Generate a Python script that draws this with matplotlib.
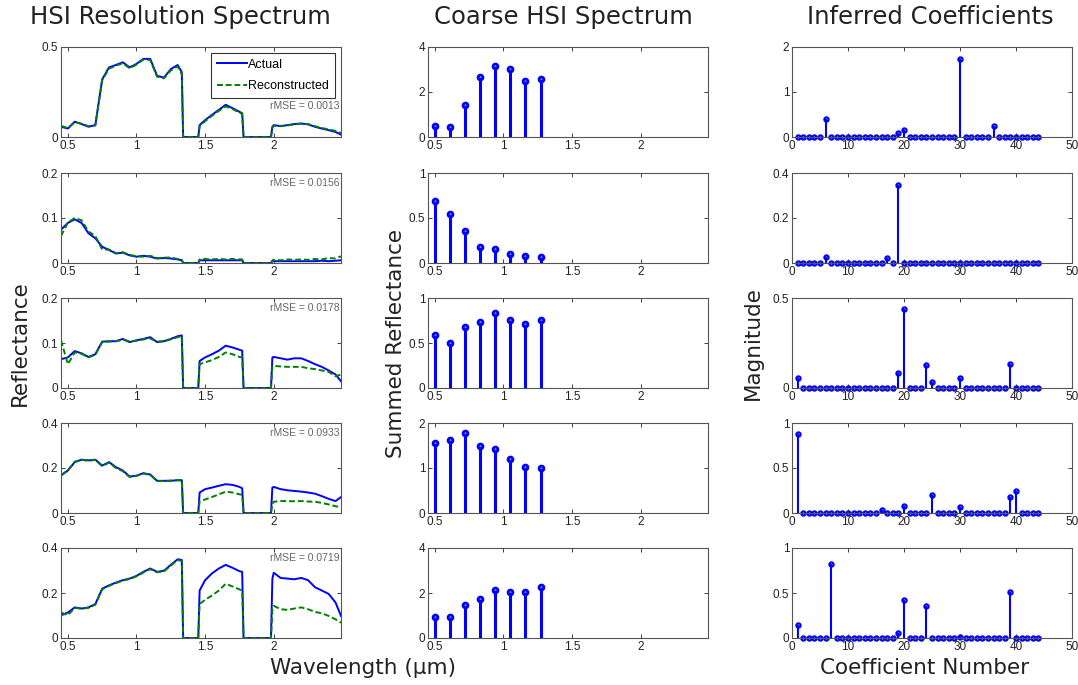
import numpy as np
import matplotlib
matplotlib.use("Agg")
import matplotlib.pyplot as plt
from matplotlib.ticker import FuncFormatter

# shared wavelength grid (um) for the full-resolution spectra
wl = [0.45, 0.50, 0.55, 0.60, 0.65, 0.70, 0.75, 0.80, 0.85, 0.90, 0.95,
      1.00, 1.05, 1.10, 1.15, 1.20, 1.25, 1.30, 1.33, 1.34, 1.45, 1.46,
      1.50, 1.55, 1.60, 1.65, 1.70, 1.75, 1.77, 1.78, 1.98, 1.99, 2.00,
      2.05, 2.10, 2.15, 2.20, 2.25, 2.30, 2.35, 2.40, 2.45, 2.49]

actual_1 = [0.057, 0.047, 0.085, 0.072, 0.057, 0.066, 0.320, 0.387, 0.400, 0.415, 0.387,
            0.406, 0.434, 0.434, 0.340, 0.330, 0.377, 0.400, 0.360, 0.0, 0.0, 0.066,
            0.094, 0.123, 0.151, 0.179, 0.160, 0.140, 0.132, 0.0, 0.0, 0.057, 0.066,
            0.060, 0.066, 0.072, 0.075, 0.070, 0.057, 0.047, 0.038, 0.028, 0.013]
recon_1 = [0.062, 0.050, 0.082, 0.074, 0.060, 0.064, 0.315, 0.380, 0.396, 0.410, 0.382,
           0.402, 0.430, 0.428, 0.335, 0.326, 0.370, 0.392, 0.350, 0.0, 0.0, 0.060,
           0.088, 0.118, 0.145, 0.170, 0.155, 0.136, 0.128, 0.0, 0.0, 0.052, 0.062,
           0.062, 0.064, 0.070, 0.074, 0.072, 0.060, 0.050, 0.042, 0.034, 0.022]

actual_2 = [0.074, 0.089, 0.097, 0.089, 0.066, 0.055, 0.036, 0.029, 0.021, 0.023, 0.017,
            0.014, 0.016, 0.014, 0.010, 0.011, 0.010, 0.008, 0.006, 0.0, 0.0, 0.006,
            0.006, 0.006, 0.006, 0.006, 0.006, 0.006, 0.006, 0.0, 0.0, 0.004, 0.004,
            0.004, 0.004, 0.004, 0.004, 0.004, 0.004, 0.005, 0.004, 0.005, 0.006]
recon_2 = [0.060, 0.090, 0.100, 0.095, 0.070, 0.060, 0.030, 0.030, 0.022, 0.024, 0.018,
           0.015, 0.014, 0.016, 0.011, 0.012, 0.012, 0.009, 0.007, 0.0, 0.0, 0.008,
           0.009, 0.008, 0.009, 0.008, 0.009, 0.008, 0.008, 0.0, 0.0, 0.006, 0.007,
           0.006, 0.008, 0.007, 0.008, 0.007, 0.009, 0.008, 0.011, 0.010, 0.015]

actual_3 = [0.064, 0.068, 0.082, 0.077, 0.069, 0.075, 0.103, 0.104, 0.104, 0.109, 0.102,
            0.106, 0.109, 0.113, 0.102, 0.104, 0.109, 0.115, 0.117, 0.0, 0.0, 0.060,
            0.068, 0.075, 0.083, 0.094, 0.090, 0.085, 0.083, 0.0, 0.0, 0.068, 0.069,
            0.066, 0.063, 0.066, 0.066, 0.060, 0.053, 0.047, 0.039, 0.030, 0.015]
recon_3 = [0.106, 0.053, 0.079, 0.076, 0.068, 0.074, 0.102, 0.103, 0.104, 0.107, 0.104,
           0.105, 0.108, 0.110, 0.103, 0.104, 0.108, 0.113, 0.115, 0.0, 0.0, 0.053,
           0.057, 0.062, 0.069, 0.079, 0.075, 0.069, 0.068, 0.0, 0.0, 0.049, 0.049,
           0.048, 0.047, 0.047, 0.047, 0.044, 0.042, 0.039, 0.036, 0.026, 0.030]

actual_4 = [0.166, 0.189, 0.226, 0.237, 0.234, 0.237, 0.211, 0.226, 0.204, 0.189, 0.162,
            0.166, 0.177, 0.171, 0.143, 0.143, 0.143, 0.146, 0.146, 0.0, 0.0, 0.091,
            0.106, 0.113, 0.121, 0.128, 0.125, 0.116, 0.110, 0.0, 0.0, 0.113, 0.116,
            0.106, 0.101, 0.098, 0.095, 0.091, 0.086, 0.075, 0.063, 0.053, 0.071]
recon_4 = [0.168, 0.190, 0.228, 0.236, 0.232, 0.236, 0.208, 0.224, 0.200, 0.186, 0.160,
           0.165, 0.175, 0.170, 0.142, 0.142, 0.144, 0.145, 0.145, 0.0, 0.0, 0.053,
           0.060, 0.071, 0.083, 0.095, 0.091, 0.083, 0.081, 0.0, 0.0, 0.038, 0.050,
           0.053, 0.053, 0.052, 0.053, 0.051, 0.050, 0.045, 0.038, 0.030, 0.026]

actual_5 = [0.101, 0.113, 0.136, 0.131, 0.136, 0.151, 0.219, 0.234, 0.246, 0.257, 0.264,
            0.276, 0.294, 0.309, 0.294, 0.299, 0.325, 0.350, 0.347, 0.0, 0.0, 0.211,
            0.257, 0.287, 0.309, 0.325, 0.312, 0.297, 0.294, 0.0, 0.0, 0.264, 0.290,
            0.267, 0.264, 0.261, 0.267, 0.257, 0.226, 0.211, 0.196, 0.158, 0.098]
recon_5 = [0.113, 0.101, 0.134, 0.130, 0.134, 0.148, 0.216, 0.232, 0.244, 0.255, 0.262,
           0.274, 0.291, 0.306, 0.292, 0.296, 0.322, 0.346, 0.343, 0.0, 0.0, 0.151,
           0.170, 0.189, 0.211, 0.241, 0.229, 0.216, 0.211, 0.0, 0.0, 0.128, 0.143,
           0.128, 0.125, 0.131, 0.136, 0.128, 0.116, 0.110, 0.098, 0.083, 0.068]

actual = [actual_1, actual_2, actual_3, actual_4, actual_5]
recon = [recon_1, recon_2, recon_3, recon_4, recon_5]
rmse_labels = ["0.0013", "0.0156", "0.0178", "0.0933", "0.0719"]
spec_ylims = [0.5, 0.2, 0.2, 0.4, 0.4]
spec_yticks = [[0, 0.5], [0, 0.1, 0.2], [0, 0.1, 0.2], [0, 0.2, 0.4], [0, 0.2, 0.4]]

# coarse band centres and summed reflectance
band_wl = [0.50, 0.61, 0.72, 0.83, 0.94, 1.05, 1.16, 1.27]
coarse = [
    [0.51, 0.45, 1.41, 2.65, 3.15, 3.00, 2.47, 2.58],
    [0.685, 0.543, 0.356, 0.176, 0.154, 0.105, 0.079, 0.071],
    [0.586, 0.500, 0.683, 0.728, 0.828, 0.754, 0.716, 0.757],
    [1.56, 1.63, 1.78, 1.49, 1.42, 1.19, 1.03, 1.00],
    [0.93, 0.93, 1.45, 1.72, 2.14, 2.05, 2.05, 2.25],
]
coarse_ylims = [4, 1, 1, 2, 4]
coarse_yticks = [[0, 2, 4], [0, 0.5, 1], [0, 0.5, 1], [0, 1, 2], [0, 2, 4]]

# inferred coefficients: 44 coefficients, only the non-zero ones listed
n_coef = 44
coef_idx = [
    [6, 19, 20, 30, 36],
    [6, 17, 19],
    [1, 19, 20, 24, 25, 30, 39],
    [1, 16, 20, 25, 30, 39, 40],
    [1, 7, 19, 20, 24, 30, 39],
]
coef_val = [
    [0.39, 0.08, 0.15, 1.74, 0.24],
    [0.025, 0.022, 0.347],
    [0.053, 0.085, 0.44, 0.126, 0.032, 0.053, 0.132],
    [0.88, 0.03, 0.075, 0.195, 0.064, 0.18, 0.243],
    [0.142, 0.824, 0.056, 0.423, 0.356, 0.01, 0.513],
]
coef_ylims = [2, 0.4, 0.5, 1, 1]
coef_yticks = [[0, 1, 2], [0, 0.2, 0.4], [0, 0.5], [0, 0.5, 1], [0, 0.5, 1]]

blue = "#0000ff"
green = "#008000"
tick_font = "Liberation Sans"
label_font = "DejaVu Sans"

fig = plt.figure(figsize=(10.78, 6.85), dpi=100)
W, H = 1078.0, 685.0
col_x = [61, 428, 792]
col_w = 280
row_top = [47, 173, 298, 423, 548]
row_h = 90

fmt = FuncFormatter(lambda v, p: "%g" % v)


def style(ax):
    ax.tick_params(direction="in", top=True, right=True, length=3, width=0.6,
                   labelsize=8.5, pad=2, colors="#222222")
    for lab in ax.get_xticklabels() + ax.get_yticklabels():
        lab.set_family(tick_font)
    for s in ax.spines.values():
        s.set_color("#555555")
        s.set_linewidth(0.8)
    ax.xaxis.set_major_formatter(fmt)
    ax.yaxis.set_major_formatter(fmt)


for r in range(5):
    y0 = 1 - (row_top[r] + row_h) / H
    hh = row_h / H

    # full resolution spectrum
    ax = fig.add_axes([col_x[0] / W, y0, col_w / W, hh])
    ax.plot(wl, actual[r], color=blue, lw=1.4, label="Actual")
    ax.plot(wl, recon[r], color=green, lw=1.4, ls="--", dashes=(3, 1.5), label="Reconstructed")
    ax.set_xlim(0.45, 2.49)
    ax.set_ylim(0, spec_ylims[r])
    ax.set_xticks([0.5, 1, 1.5, 2])
    ax.set_yticks(spec_yticks[r])
    style(ax)
    if r == 0:
        leg = ax.legend(loc="upper right", frameon=True, fancybox=False,
                        handlelength=2.4, borderpad=0.45, labelspacing=0.75,
                        handletextpad=0.1, borderaxespad=0.5,
                        prop={"family": tick_font, "size": 9})
        leg.get_frame().set_edgecolor("black")
        leg.get_frame().set_linewidth(0.8)
        ty = 0.34
    else:
        ty = 0.89
    ax.text(0.995, ty, "rMSE = " + rmse_labels[r], transform=ax.transAxes,
            ha="right", va="center", fontsize=7.5, color="#666666", family=tick_font)

    # coarse spectrum
    ax = fig.add_axes([col_x[1] / W, y0, col_w / W, hh])
    ml, sl, bl = ax.stem(band_wl, coarse[r], linefmt="-", markerfmt="o", basefmt=" ")
    plt.setp(sl, color=blue, lw=2.2)
    plt.setp(ml, color=blue, ms=3.5, mfc="none", mew=2)
    ax.set_xlim(0.45, 2.49)
    ax.set_ylim(0, coarse_ylims[r])
    ax.set_xticks([0.5, 1, 1.5, 2])
    ax.set_yticks(coarse_yticks[r])
    style(ax)

    # inferred coefficients
    ax = fig.add_axes([col_x[2] / W, y0, col_w / W, hh])
    vals = np.zeros(n_coef)
    vals[np.array(coef_idx[r]) - 1] = coef_val[r]
    ml, sl, bl = ax.stem(np.arange(1, n_coef + 1), vals, linefmt="-", markerfmt="o", basefmt=" ")
    plt.setp(sl, color=blue, lw=1.5)
    plt.setp(ml, color=blue, ms=3, mfc="none", mew=1.6, clip_on=False)
    ax.set_xlim(0, 50)
    ax.set_ylim(0, coef_ylims[r])
    ax.set_xticks([0, 10, 20, 30, 40, 50])
    ax.set_yticks(coef_yticks[r])
    style(ax)

# column titles and shared labels
title_kw = dict(ha="center", va="center", fontsize=17.5, family=label_font, color="#222222")
label_kw = dict(ha="center", va="center", fontsize=15.5, family=label_font, color="#222222")
fig.text(180 / W, 1 - 17 / H, "HSI Resolution Spectrum", **title_kw)
fig.text(563 / W, 1 - 17 / H, "Coarse HSI Spectrum", **title_kw)
fig.text(930 / W, 1 - 17 / H, "Inferred Coefficients", **title_kw)
fig.text(20 / W, 1 - 343 / H, "Reflectance", rotation=90, **label_kw)
fig.text(396 / W, 1 - 343 / H, "Summed Reflectance", rotation=90, **label_kw)
fig.text(753 / W, 1 - 343 / H, "Magnitude", rotation=90, **label_kw)
fig.text(363 / W, 1 - 668 / H, "Wavelength (\u03bcm)", **label_kw)
fig.text(925 / W, 1 - 668 / H, "Coefficient Number", **label_kw)

fig.savefig("out.png", dpi=100, facecolor="white")
